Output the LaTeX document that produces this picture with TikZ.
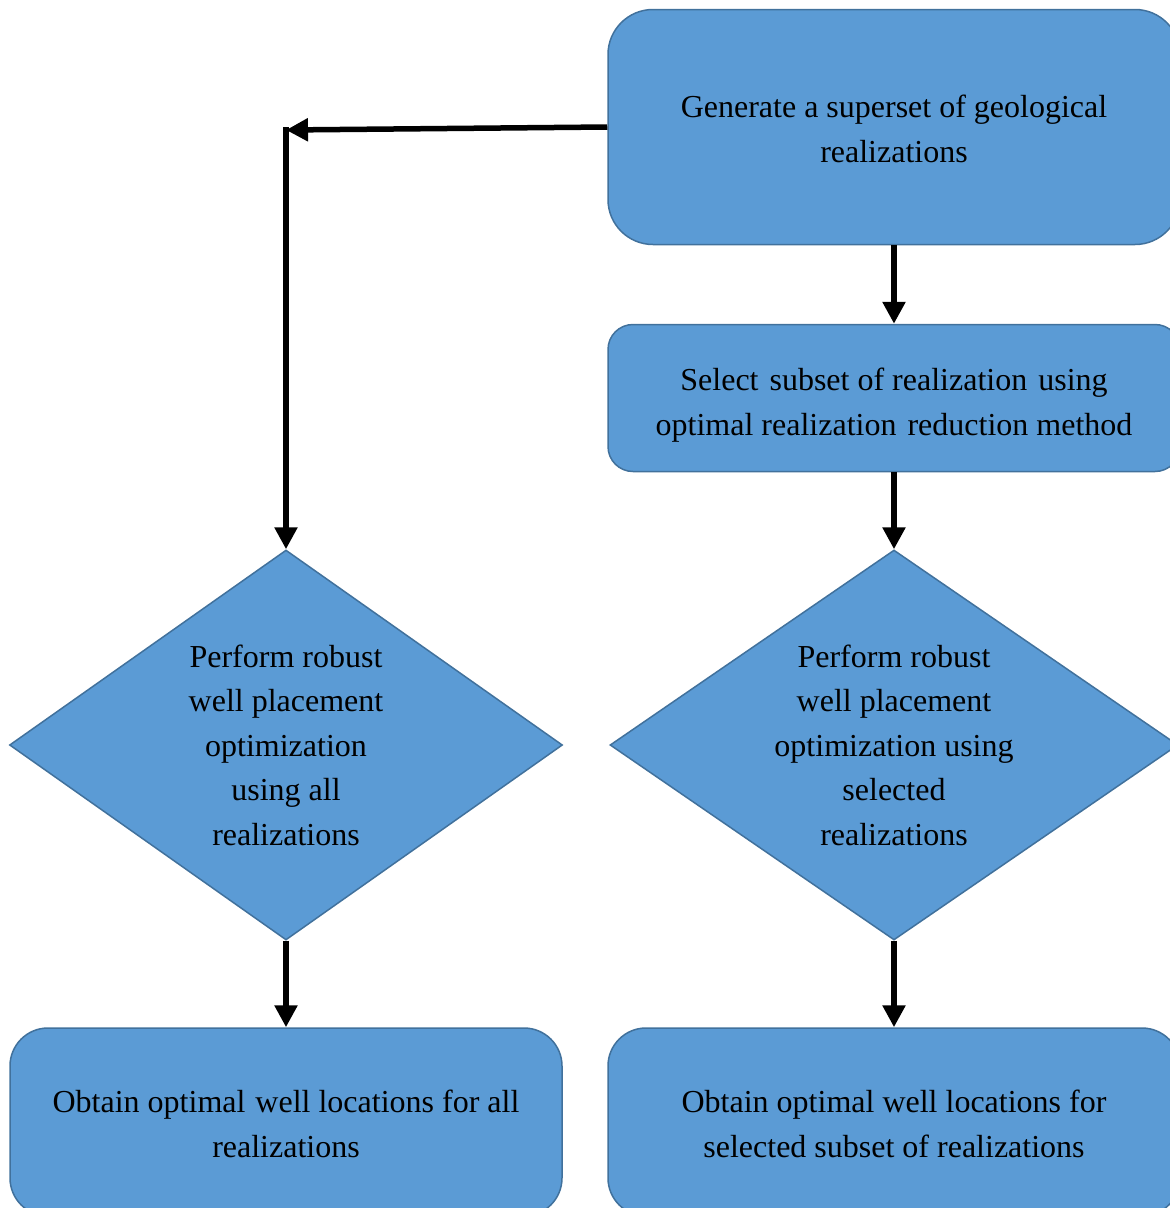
\documentclass[tikz,border=0pt]{standalone}
\usepackage{fontspec}
\setmainfont{Liberation Serif}
\usetikzlibrary{shapes.geometric,arrows.meta}
\definecolor{boxfill}{HTML}{5B9BD5}
\definecolor{boxline}{HTML}{41719C}
\begin{document}
\begin{tikzpicture}[x=1pt,y=-1pt,
  box/.style={draw=boxline,fill=boxfill,line width=1.5pt,align=center,inner sep=0pt,
    font=\fontsize{32}{45}\selectfont},
  dia/.style={draw=boxline,fill=boxfill,line width=1.5pt,shape=diamond,inner sep=0pt},
  btext/.style={align=center,inner sep=0pt,font=\fontsize{32}{45}\selectfont},
  diatext/.style={align=center,inner sep=0pt,font=\fontsize{32}{44.5}\selectfont},
  arr/.style={line width=5.5pt,-{Triangle[length=22pt,width=22pt]}}]
\useasboundingbox (0,0) rectangle (1170,1208);
\clip (0,0) rectangle (1170,1208);
\node[box,rounded corners=45pt,minimum width=572pt,minimum height=235pt] (top) at (894,127) {};
\node[btext] (toptext) at (894,129) {Generate a superset of geological\\realizations};
\node[box,rounded corners=25pt,minimum width=572pt,minimum height=147pt] (sel) at (894,398) {};
\node[btext] (seltext) at (894,405)
  {Select\hspace{11pt}subset of realization\hspace{11pt}using\\optimal realization\hspace{11pt}reduction method};
\node[dia,minimum width=553pt,minimum height=390pt] (ldia) at (286,745) {};
\node[diatext] (ldiatext) at (ldia.center) {Perform robust\\well placement\\optimization\\using all\\realizations};
\node[dia,minimum width=568pt,minimum height=390pt] (rdia) at (894,745) {};
\node[diatext] (rdiatext) at (rdia.center) {Perform robust\\well placement\\optimization using\\selected\\realizations};
\node[box,rounded corners=38pt,minimum width=552pt,minimum height=188pt] (bl) at (286,1122) {};
\node[btext] (bltext) at (286,1124) {Obtain optimal\hspace{10pt}well locations for all\\realizations};
\node[box,rounded corners=38pt,minimum width=572pt,minimum height=188pt] (br) at (894,1122) {};
\node[btext] (brtext) at (894,1124) {Obtain optimal well locations for\\selected subset of realizations};
\coordinate (corner) at (286,130);
\draw[arr] (top.west) -- (corner);
\draw[arr,shorten <=-2.75pt] (corner) -- (ldia.north);
\draw[arr] (top.south) -- (sel.north);
\draw[arr] (sel.south) -- (rdia.north);
\draw[arr] (ldia.south) -- (bl.north);
\draw[arr] (rdia.south) -- (br.north);
\end{tikzpicture}
\end{document}
